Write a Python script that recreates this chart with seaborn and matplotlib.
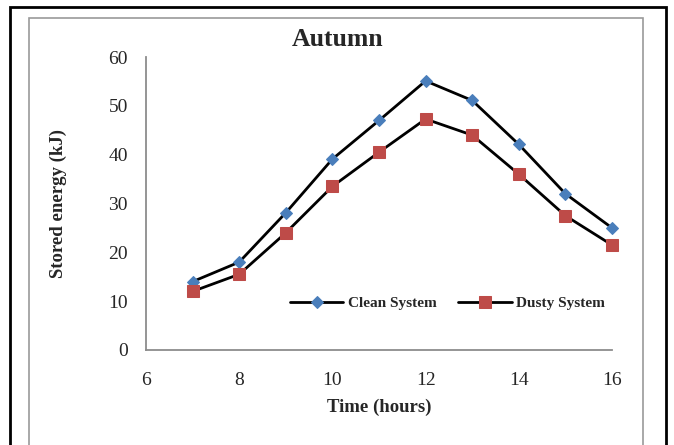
import pandas as pd
import numpy as np
import matplotlib.pyplot as plt
import seaborn as sns
from matplotlib.patches import Rectangle

# data
hours = [7, 8, 9, 10, 11, 12, 13, 14, 15, 16]
clean_energy = [14.0, 18.0, 28.1, 39.1, 47.0, 55.1, 51.1, 42.1, 32.0, 25.0]
dusty_energy = [12.0, 15.5, 24.0, 33.5, 40.5, 47.3, 44.0, 36.0, 27.5, 21.5]
x_ticks = [6, 8, 10, 12, 14, 16]
y_ticks = [0, 10, 20, 30, 40, 50, 60]

df = pd.DataFrame({
    'Time': hours * 2,
    'Energy': clean_energy + dusty_energy,
    'System': ['Clean System'] * len(hours) + ['Dusty System'] * len(hours),
})

sns.set_style('white')
plt.rcParams['font.family'] = ['Liberation Serif', 'DejaVu Serif']

fig = plt.figure(figsize=(6.74, 4.45), dpi=100)
ax = fig.add_axes([146 / 674, 1 - 350 / 445, (612 - 146) / 674, (350 - 57) / 445])

# outer frames
fig.patches.append(Rectangle((10 / 674, -0.1), (666 - 10) / 674, 1.1 - 7 / 445,
                             transform=fig.transFigure, fill=False,
                             edgecolor='black', linewidth=2))
fig.patches.append(Rectangle((29 / 674, -0.1), (643 - 29) / 674, 1.1 - 18 / 445,
                             transform=fig.transFigure, fill=False,
                             edgecolor='#9a9a9a', linewidth=1.2))

styles = {
    'Clean System': dict(marker='D', markerfacecolor='#4a7ebb', markersize=6),
    'Dusty System': dict(marker='s', markerfacecolor='#be4b48', markersize=8),
}
for name, st in styles.items():
    sub = df[df['System'] == name]
    sns.lineplot(data=sub, x='Time', y='Energy', ax=ax, color='black',
                 linewidth=2, markeredgecolor=st['markerfacecolor'],
                 label=name, clip_on=False, **st)

ax.set_xlim(6, 16)
ax.set_ylim(0, 60)
ax.set_xticks(x_ticks)
ax.set_yticks(y_ticks)
ax.tick_params(axis='y', labelsize=14, length=0, pad=13)
ax.tick_params(axis='x', labelsize=14, length=0, pad=16)
for side in ['top', 'right']:
    ax.spines[side].set_visible(False)
for side in ['left', 'bottom']:
    ax.spines[side].set_color('#8c8c8c')
    ax.spines[side].set_linewidth(1.3)

ax.set_xlabel('Time (hours)', fontsize=13.5, fontweight='bold')
ax.set_ylabel('Stored energy (kJ)', fontsize=13.5, fontweight='bold')
ax.xaxis.set_label_coords(0.5, -0.167)
ax.yaxis.set_label_coords(-0.17, 0.5)
fig.text(338 / 674, 1 - 40 / 445, 'Autumn', fontsize=18.5, fontweight='bold',
         ha='center', va='center')

ax.legend(loc='center', bbox_to_anchor=(0.647, 0.16), ncol=2, frameon=False,
          prop={'weight': 'bold', 'size': 11}, handlelength=3.5,
          columnspacing=1.4, handletextpad=0.3)

fig.savefig('out.png', dpi=100)
